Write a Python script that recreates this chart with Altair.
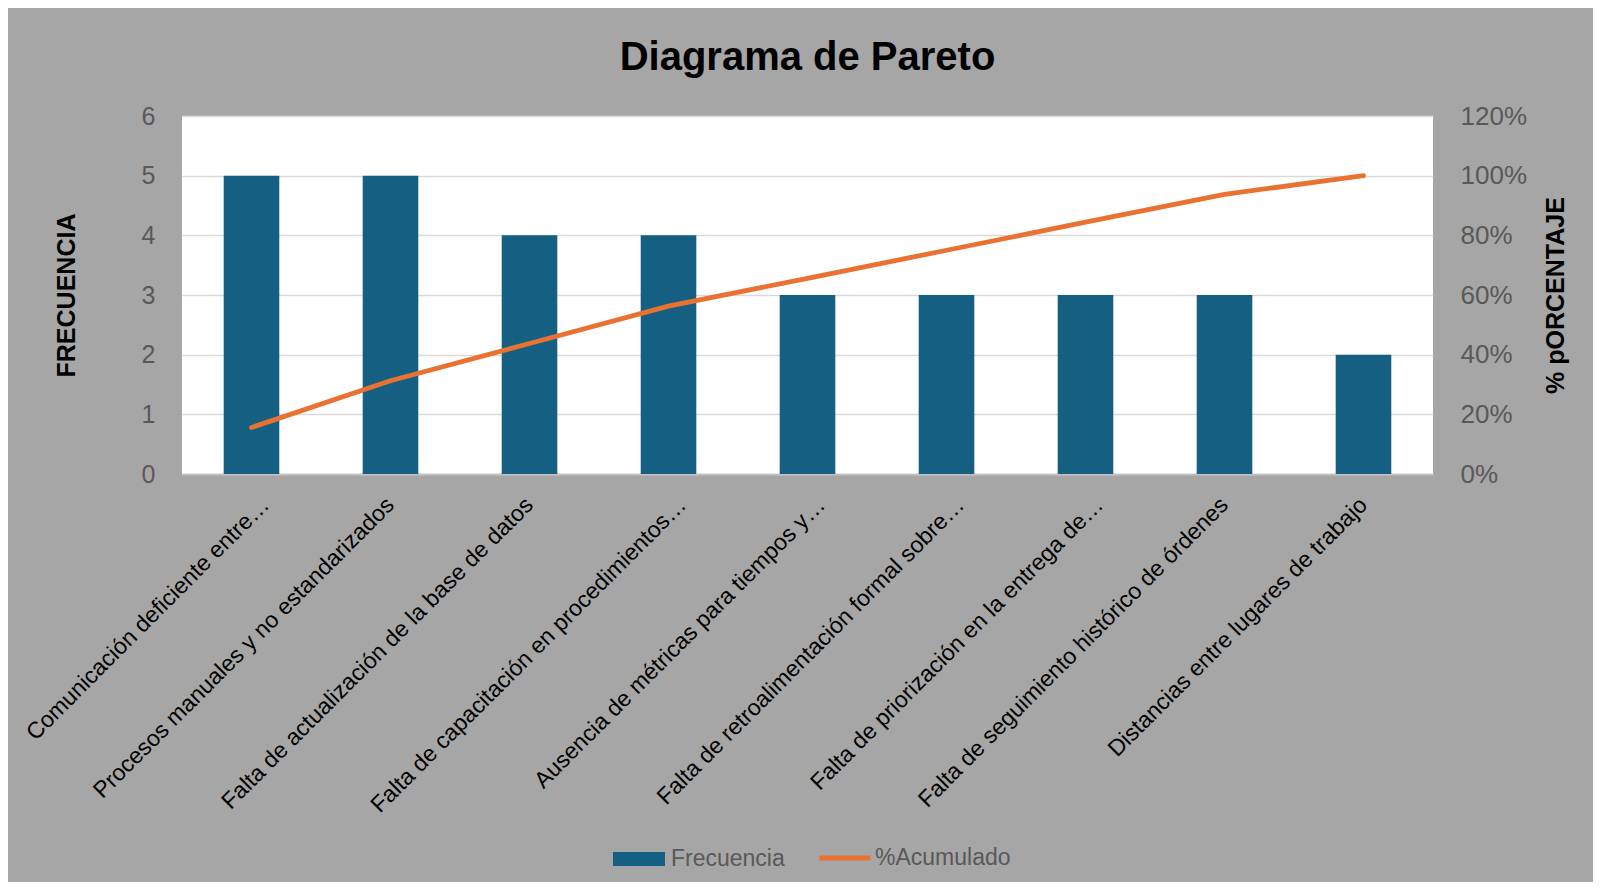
import altair as alt
import pandas as pd

categorias = [
    "Comunicación deficiente entre…",
    "Procesos manuales y no estandarizados",
    "Falta de actualización de la base de datos",
    "Falta de capacitación en procedimientos…",
    "Ausencia de métricas para tiempos y…",
    "Falta de retroalimentación formal sobre…",
    "Falta de priorización en la entrega de…",
    "Falta de seguimiento histórico de órdenes",
    "Distancias entre lugares de trabajo",
]
frecuencia = [5, 5, 4, 4, 3, 3, 3, 3, 2]
acumulado = [0.156, 0.3125, 0.4375, 0.5625, 0.656, 0.75, 0.844, 0.9375, 1.0]
ticks_frec = [0, 1, 2, 3, 4, 5, 6]
ticks_pct = [0, 0.2, 0.4, 0.6, 0.8, 1.0, 1.2]

df = pd.DataFrame({
    "categoria": categorias,
    "frecuencia": frecuencia,
    "acumulado": acumulado,
    "serieB": ["Frecuencia"] * len(categorias),
    "serieL": ["%Acumulado"] * len(categorias),
})

BLUE = "#156082"
ORANGE = "#e97132"
GRAY_TXT = "#595959"
FONT = "Liberation Sans"

x_enc = alt.X(
    "categoria:N",
    sort=categorias,
    scale=alt.Scale(paddingInner=0.6, paddingOuter=0.3),
    axis=alt.Axis(
        title=None,
        labelAngle=-45,
        labelAlign="right",
        labelBaseline="middle",
        labelFontSize=23,
        labelFont=FONT,
        labelColor="#000000",
        labelPadding=27,
        labelOffset={"condition": {"test": "indexof(datum.label, '…') >= 0", "value": 14}, "value": 0},
        labelLimit=0,
        ticks=False,
        domainColor="#bfbfbf",
        domainWidth=1.5,
        grid=False,
    ),
)

bars = alt.Chart(df).mark_bar(color=BLUE).encode(
    x=x_enc,
    y=alt.Y(
        "frecuencia:Q",
        scale=alt.Scale(domain=[0, 6], nice=False),
        axis=alt.Axis(
            title="FRECUENCIA",
            values=ticks_frec,
            orient="left",
            labelFontSize=25,
            labelFont=FONT,
            labelColor=GRAY_TXT,
            labelPadding=27,
            ticks=False,
            domain=False,
            grid=True,
            gridColor="#d9d9d9",
            gridWidth=1.5,
            titleFont=FONT,
            titleFontSize=25,
            titleFontWeight="bold",
            titleColor="#000000",
            titlePadding=62,
        ),
    ),
    fill=alt.Fill(
        "serieB:N",
        scale=alt.Scale(domain=["Frecuencia"], range=[BLUE]),
        legend=alt.Legend(
            title=None,
            orient="none",
            legendX=431,
            legendY=717,
            symbolType="M-1,-0.27L1,-0.27L1,0.27L-1,0.27Z",
            symbolSize=2704,
            symbolStrokeWidth=0,
            labelFontSize=23,
            labelFont=FONT,
            labelColor=GRAY_TXT,
            labelOffset=6,
            padding=0,
        ),
    ),
)

line = alt.Chart(df).mark_line(strokeWidth=4.8, strokeCap="round", strokeJoin="round").encode(
    x=alt.X("categoria:N", sort=categorias),
    y=alt.Y(
        "acumulado:Q",
        scale=alt.Scale(domain=[0, 1.2], nice=False),
        axis=alt.Axis(
            title="% pORCENTAJE",
            values=ticks_pct,
            format=".0%",
            orient="right",
            labelFontSize=26,
            labelFont=FONT,
            labelColor=GRAY_TXT,
            labelPadding=27,
            ticks=False,
            domain=False,
            grid=False,
            titleFont=FONT,
            titleFontSize=25,
            titleFontWeight="bold",
            titleColor="#000000",
            titlePadding=42,
            titleAngle=270,
        ),
    ),
    stroke=alt.Stroke(
        "serieL:N",
        scale=alt.Scale(domain=["%Acumulado"], range=[ORANGE]),
        legend=alt.Legend(
            title=None,
            orient="none",
            legendX=635,
            legendY=714,
            symbolType="stroke",
            symbolSize=2601,
            symbolStrokeWidth=5,
            labelFontSize=23,
            labelFont=FONT,
            labelColor=GRAY_TXT,
            labelOffset=2,
            padding=0,
        ),
    ),
)

chart = (
    alt.layer(bars, line)
    .resolve_scale(y="independent")
    .properties(
        width=1251,
        height=358,
        background="#a6a6a6",
        padding={"left": 174, "top": 108, "right": 160, "bottom": 408},
        autosize=alt.AutoSizeParams(type="none"),
        title=alt.TitleParams(
            "Diagrama de Pareto",
            font=FONT,
            fontSize=40,
            fontWeight="bold",
            color="#000000",
            anchor="middle",
            offset=25,
        ),
    )
    .configure_view(fill="white", stroke=None)
)

chart.save("out.html", embed_options={"renderer": "svg", "actions": False})
